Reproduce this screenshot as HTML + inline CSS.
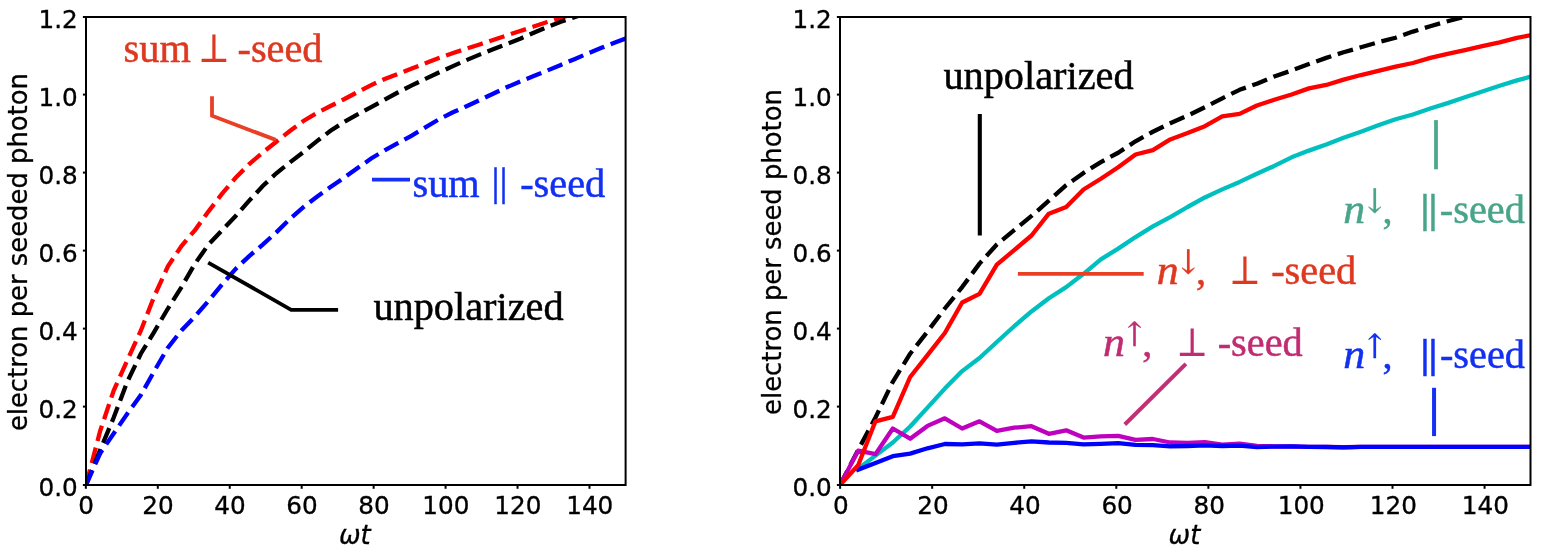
<!DOCTYPE html>
<html lang="en">
<head>
<meta charset="utf-8">
<title>electron per seeded photon</title>
<style>
html,body{margin:0;padding:0;background:#fff;}
body{width:1560px;height:556px;overflow:hidden;}
svg{display:block;}
text{white-space:pre;}
.tk{font-family:"DejaVu Sans","Liberation Sans",sans-serif;font-size:25.2px;fill:#000;stroke:#000;stroke-width:0.35px;}
.lb{font-family:"DejaVu Sans","Liberation Sans",sans-serif;font-size:25.85px;fill:#000;stroke:#000;stroke-width:0.3px;}
.it{font-style:italic;}
.an{font-family:"Liberation Serif","DejaVu Serif",serif;font-size:40.3px;}
.ni{font-style:italic;}
.ar{font-family:"DejaVu Math TeX Gyre","DejaVu Sans","Liberation Serif",serif;font-size:29.7px;}
.sy{font-family:"DejaVu Math TeX Gyre","DejaVu Sans","Liberation Serif",serif;font-size:39.3px;}
.br{font-weight:bold;letter-spacing:-0.75px;}
</style>
</head>
<body>
<svg width="1560" height="556" viewBox="0 0 1560 556">
<defs>
<clipPath id="c1"><rect x="86.00" y="17.00" width="539.60" height="468.00"/></clipPath>
<clipPath id="c2"><rect x="840.00" y="17.00" width="690.50" height="468.00"/></clipPath>
</defs>
<rect x="0" y="0" width="1560" height="556" fill="#fff"/>
<g clip-path="url(#c1)" fill="none" stroke-width="4.30" stroke-dasharray="15.9 6.85">
<polyline stroke="#ff0000" points="86.00,485.00 100.17,430.90 113.72,390.50 127.27,360.40 140.82,330.70 154.37,296.00 167.92,266.30 181.47,246.00 195.01,230.10 208.56,211.34 222.11,193.66 235.66,177.77 249.21,164.12 262.76,152.48 276.31,141.70 289.85,130.98 303.40,121.03 316.95,112.86 330.50,106.03 344.05,99.25 357.60,92.09 371.15,85.07 384.70,78.96 398.24,73.74 411.79,68.60 425.34,63.26 438.89,58.04 452.44,53.25 465.99,48.85 479.54,44.45 493.08,39.92 506.63,35.44 520.18,31.03 533.73,26.55 547.28,22.05 560.83,17.76 574.38,13.73 587.92,9.75 601.47,5.72 615.02,1.71 628.57,-2.17"/>
<polyline stroke="#000000" points="86.00,485.00 100.17,449.98 113.72,417.56 127.27,381.77 140.82,353.73 154.37,331.58 167.92,308.50 181.47,287.08 195.01,263.63 208.56,244.45 222.11,230.21 235.66,215.95 249.21,200.66 262.76,186.01 276.31,173.28 289.85,162.49 303.40,152.08 316.95,141.16 330.50,130.81 344.05,121.99 357.60,114.42 371.15,107.15 384.70,99.58 398.24,92.24 411.79,85.44 425.34,78.83 438.89,72.50 452.44,66.36 465.99,60.31 479.54,54.62 493.08,49.24 506.63,44.07 520.18,38.71 533.73,32.83 547.28,27.00 560.83,21.74 574.38,17.10 587.92,12.87 601.47,8.77 615.02,4.70 628.57,0.62"/>
<polyline stroke="#0000ff" points="86.00,485.00 100.17,453.30 113.72,433.50 127.27,413.70 140.82,395.10 154.37,370.90 167.92,347.60 181.47,330.40 195.01,316.40 208.56,300.91 222.11,284.38 235.66,268.88 249.21,256.08 262.76,244.69 276.31,232.32 289.85,219.03 303.40,207.13 316.95,196.76 330.50,187.09 344.05,177.83 357.60,168.06 371.15,158.52 384.70,150.30 398.24,142.90 411.79,135.52 425.34,127.42 438.89,119.36 452.44,112.55 465.99,106.43 479.54,100.16 493.08,93.70 506.63,87.32 520.18,81.46 533.73,76.06 547.28,70.54 560.83,64.90 574.38,59.18 587.92,53.40 601.47,47.76 615.02,42.45 628.57,37.53"/>
</g>
<g clip-path="url(#c2)" fill="none" stroke-width="4.30" stroke-linejoin="round">
<polyline stroke="#000000" stroke-dasharray="15.9 6.85" points="840.00,485.00 858.14,449.98 875.48,417.56 892.81,381.77 910.15,353.73 927.49,331.58 944.83,308.50 962.16,287.08 979.50,263.63 996.84,244.45 1014.18,230.21 1031.51,215.95 1048.85,200.74 1066.19,185.20 1083.53,172.89 1100.86,162.15 1118.20,152.75 1135.54,141.28 1152.88,131.75 1170.21,123.30 1187.55,115.64 1204.89,107.26 1222.23,98.30 1239.56,89.81 1256.90,83.72 1274.24,76.50 1291.58,70.54 1308.91,64.10 1326.25,57.87 1343.59,52.26 1360.93,47.28 1378.26,42.22 1395.60,37.72 1412.94,31.58 1430.28,26.25 1447.61,21.22 1464.95,16.77 1482.29,12.67 1499.63,8.65 1516.96,4.64 1534.30,0.62"/>
<polyline stroke="#00bfbf" stroke-linecap="square" points="858.14,468.70 875.48,455.60 892.81,442.50 910.15,426.50 927.49,407.60 944.83,388.60 962.16,371.10 979.50,358.00 996.84,342.00 1014.18,326.23 1031.51,311.48 1048.85,298.24 1066.19,287.15 1083.53,273.80 1100.86,259.33 1118.20,248.66 1135.54,237.07 1152.88,226.45 1170.21,217.08 1187.55,207.00 1204.89,197.45 1222.23,189.36 1239.56,181.91 1256.90,173.79 1274.24,165.93 1291.58,157.31 1308.91,150.61 1326.25,144.48 1343.59,137.84 1360.93,131.77 1378.26,125.34 1395.60,119.23 1412.94,114.45 1430.28,108.51 1447.61,103.10 1464.95,97.28 1482.29,91.46 1499.63,85.80 1516.96,80.38 1534.30,75.63"/>
<polyline stroke="#bf00bf" points="840.00,485.00 858.14,450.70 875.48,454.20 892.81,428.50 910.15,438.70 927.49,425.90 944.83,418.30 962.16,428.50 979.50,421.30 996.84,430.90 1014.18,427.70 1031.51,426.20 1048.85,433.80 1066.19,430.30 1083.53,437.60 1100.86,436.40 1118.20,435.80 1135.54,439.90 1152.88,439.00 1170.21,442.50 1187.55,442.80 1204.89,442.20 1222.23,444.60 1239.56,443.70 1256.90,446.00 1274.24,446.30 1291.58,446.40 1308.91,446.90 1326.25,446.97 1343.59,447.23 1360.93,446.90 1378.26,446.90 1395.60,446.90 1412.94,446.90 1430.28,446.90 1447.61,446.90 1464.95,446.90 1482.29,446.90 1499.63,446.90 1516.96,446.90 1534.30,446.90"/>
<polyline stroke="#0000ff" stroke-linecap="square" points="858.14,469.60 875.48,462.90 892.81,456.20 910.15,453.60 927.49,448.30 944.83,444.00 962.16,444.30 979.50,443.40 996.84,444.60 1014.18,442.80 1031.51,441.40 1048.85,442.50 1066.19,442.80 1083.53,444.30 1100.86,443.80 1118.20,443.10 1135.54,444.80 1152.88,445.10 1170.21,446.30 1187.55,446.00 1204.89,445.40 1222.23,446.00 1239.56,445.70 1256.90,447.20 1274.24,446.55 1291.58,446.40 1308.91,446.90 1326.25,447.00 1343.59,447.40 1360.93,446.90 1378.26,446.90 1395.60,446.90 1412.94,446.90 1430.28,446.90 1447.61,446.90 1464.95,446.90 1482.29,446.90 1499.63,446.90 1516.96,446.90 1534.30,446.90"/>
<polyline stroke="#ff0000" points="840.00,485.00 858.14,465.20 875.48,421.30 892.81,416.90 910.15,377.00 927.49,355.10 944.83,333.00 962.16,302.50 979.50,293.80 996.84,264.70 1014.18,250.10 1031.51,235.50 1048.85,213.70 1066.19,207.00 1083.53,189.50 1100.86,178.70 1118.20,167.30 1135.54,154.50 1152.88,150.10 1170.21,139.40 1187.55,133.10 1204.89,126.15 1222.23,116.30 1239.56,113.90 1256.90,105.46 1274.24,99.79 1291.58,94.53 1308.91,88.38 1326.25,84.94 1343.59,79.63 1360.93,75.04 1378.26,70.90 1395.60,66.66 1412.94,62.98 1430.28,57.88 1447.61,53.95 1464.95,50.13 1482.29,46.13 1499.63,42.39 1516.96,37.94 1534.30,34.43"/>
</g>
<line x1="85.85" y1="485.00" x2="85.85" y2="488.80" stroke="#000" stroke-width="2"/>
<line x1="157.80" y1="485.00" x2="157.80" y2="488.80" stroke="#000" stroke-width="2"/>
<line x1="229.74" y1="485.00" x2="229.74" y2="488.80" stroke="#000" stroke-width="2"/>
<line x1="301.69" y1="485.00" x2="301.69" y2="488.80" stroke="#000" stroke-width="2"/>
<line x1="373.64" y1="485.00" x2="373.64" y2="488.80" stroke="#000" stroke-width="2"/>
<line x1="445.58" y1="485.00" x2="445.58" y2="488.80" stroke="#000" stroke-width="2"/>
<line x1="517.53" y1="485.00" x2="517.53" y2="488.80" stroke="#000" stroke-width="2"/>
<line x1="589.48" y1="485.00" x2="589.48" y2="488.80" stroke="#000" stroke-width="2"/>
<line x1="82.90" y1="485.00" x2="86.00" y2="485.00" stroke="#000" stroke-width="2"/>
<line x1="82.90" y1="406.60" x2="86.00" y2="406.60" stroke="#000" stroke-width="2"/>
<line x1="82.90" y1="328.60" x2="86.00" y2="328.60" stroke="#000" stroke-width="2"/>
<line x1="82.90" y1="250.60" x2="86.00" y2="250.60" stroke="#000" stroke-width="2"/>
<line x1="82.90" y1="172.60" x2="86.00" y2="172.60" stroke="#000" stroke-width="2"/>
<line x1="82.90" y1="94.60" x2="86.00" y2="94.60" stroke="#000" stroke-width="2"/>
<line x1="82.90" y1="17.00" x2="86.00" y2="17.00" stroke="#000" stroke-width="2"/>
<rect x="86.00" y="17.00" width="539.60" height="468.00" fill="none" stroke="#000" stroke-width="2"/>
<text class="tk" transform="translate(86.10,513.50) scale(0.98,1)" text-anchor="middle">0</text>
<text class="tk" transform="translate(158.05,513.50) scale(0.98,1)" text-anchor="middle">20</text>
<text class="tk" transform="translate(229.99,513.50) scale(0.98,1)" text-anchor="middle">40</text>
<text class="tk" transform="translate(301.94,513.50) scale(0.98,1)" text-anchor="middle">60</text>
<text class="tk" transform="translate(373.89,513.50) scale(0.98,1)" text-anchor="middle">80</text>
<text class="tk" transform="translate(445.83,513.50) scale(0.98,1)" text-anchor="middle">100</text>
<text class="tk" transform="translate(517.78,513.50) scale(0.98,1)" text-anchor="middle">120</text>
<text class="tk" transform="translate(589.73,513.50) scale(0.98,1)" text-anchor="middle">140</text>
<text class="tk" transform="translate(77.80,495.90) scale(0.98,1)" text-anchor="end">0.0</text>
<text class="tk" transform="translate(77.80,417.90) scale(0.98,1)" text-anchor="end">0.2</text>
<text class="tk" transform="translate(77.80,339.90) scale(0.98,1)" text-anchor="end">0.4</text>
<text class="tk" transform="translate(77.80,261.90) scale(0.98,1)" text-anchor="end">0.6</text>
<text class="tk" transform="translate(77.80,183.90) scale(0.98,1)" text-anchor="end">0.8</text>
<text class="tk" transform="translate(77.80,105.90) scale(0.98,1)" text-anchor="end">1.0</text>
<text class="tk" transform="translate(77.80,27.90) scale(0.98,1)" text-anchor="end">1.2</text>
<line x1="840.10" y1="485.00" x2="840.10" y2="488.80" stroke="#000" stroke-width="2"/>
<line x1="932.17" y1="485.00" x2="932.17" y2="488.80" stroke="#000" stroke-width="2"/>
<line x1="1024.23" y1="485.00" x2="1024.23" y2="488.80" stroke="#000" stroke-width="2"/>
<line x1="1116.30" y1="485.00" x2="1116.30" y2="488.80" stroke="#000" stroke-width="2"/>
<line x1="1208.37" y1="485.00" x2="1208.37" y2="488.80" stroke="#000" stroke-width="2"/>
<line x1="1300.43" y1="485.00" x2="1300.43" y2="488.80" stroke="#000" stroke-width="2"/>
<line x1="1392.50" y1="485.00" x2="1392.50" y2="488.80" stroke="#000" stroke-width="2"/>
<line x1="1484.57" y1="485.00" x2="1484.57" y2="488.80" stroke="#000" stroke-width="2"/>
<line x1="836.90" y1="485.00" x2="840.00" y2="485.00" stroke="#000" stroke-width="2"/>
<line x1="836.90" y1="406.60" x2="840.00" y2="406.60" stroke="#000" stroke-width="2"/>
<line x1="836.90" y1="328.60" x2="840.00" y2="328.60" stroke="#000" stroke-width="2"/>
<line x1="836.90" y1="250.60" x2="840.00" y2="250.60" stroke="#000" stroke-width="2"/>
<line x1="836.90" y1="172.60" x2="840.00" y2="172.60" stroke="#000" stroke-width="2"/>
<line x1="836.90" y1="94.60" x2="840.00" y2="94.60" stroke="#000" stroke-width="2"/>
<line x1="836.90" y1="17.00" x2="840.00" y2="17.00" stroke="#000" stroke-width="2"/>
<rect x="840.00" y="17.00" width="690.50" height="468.00" fill="none" stroke="#000" stroke-width="2"/>
<text class="tk" transform="translate(840.90,513.50) scale(0.98,1)" text-anchor="middle">0</text>
<text class="tk" transform="translate(932.97,513.50) scale(0.98,1)" text-anchor="middle">20</text>
<text class="tk" transform="translate(1025.03,513.50) scale(0.98,1)" text-anchor="middle">40</text>
<text class="tk" transform="translate(1117.10,513.50) scale(0.98,1)" text-anchor="middle">60</text>
<text class="tk" transform="translate(1209.17,513.50) scale(0.98,1)" text-anchor="middle">80</text>
<text class="tk" transform="translate(1301.23,513.50) scale(0.98,1)" text-anchor="middle">100</text>
<text class="tk" transform="translate(1393.30,513.50) scale(0.98,1)" text-anchor="middle">120</text>
<text class="tk" transform="translate(1485.37,513.50) scale(0.98,1)" text-anchor="middle">140</text>
<text class="tk" transform="translate(831.80,495.90) scale(0.98,1)" text-anchor="end">0.0</text>
<text class="tk" transform="translate(831.80,417.90) scale(0.98,1)" text-anchor="end">0.2</text>
<text class="tk" transform="translate(831.80,339.90) scale(0.98,1)" text-anchor="end">0.4</text>
<text class="tk" transform="translate(831.80,261.90) scale(0.98,1)" text-anchor="end">0.6</text>
<text class="tk" transform="translate(831.80,183.90) scale(0.98,1)" text-anchor="end">0.8</text>
<text class="tk" transform="translate(831.80,105.90) scale(0.98,1)" text-anchor="end">1.0</text>
<text class="tk" transform="translate(831.80,27.90) scale(0.98,1)" text-anchor="end">1.2</text>
<text class="lb" transform="translate(26.6,252.1) rotate(-90)" text-anchor="middle">electron per seeded photon</text>
<text class="lb" transform="translate(780.5,252) rotate(-90)" text-anchor="middle">electron per seed photon</text>
<text class="lb it" x="354.8" y="544" text-anchor="middle">ωt</text>
<text class="lb it" x="1184.5" y="544" text-anchor="middle">ωt</text>
<g fill="none" stroke-width="3.8">
<polyline stroke="#E83F25" points="212.0,96.2 212.0,115.7 275.7,139.9"/>
<polyline stroke="#000" points="208.2,262.6 291.2,309.8 338.1,309.8"/>
<line stroke="#1430F5" x1="372" y1="179.7" x2="410" y2="179.7"/>
<line stroke="#000" stroke-width="4.1" x1="979.8" y1="114" x2="979.8" y2="235.5"/>
<line stroke="#E83F25" x1="1017.9" y1="273.8" x2="1143.7" y2="273.8"/>
<line stroke="#C32F75" stroke-width="4" x1="1185.9" y1="363.9" x2="1124.8" y2="424.5"/>
<line stroke="#4CA78C" x1="1436" y1="120.1" x2="1436" y2="169.3"/>
<line stroke="#1430F5" stroke-width="4" x1="1434.05" y1="387.8" x2="1434.05" y2="436.1"/>
</g>
<text class="an" fill="#DE3820" stroke="#DE3820" stroke-width="0.5" x="123.60" y="62.20">sum</text>
<text class="sy" fill="#DE3820" x="198.50" y="62.20">⊥</text>
<text class="an" fill="#DE3820" stroke="#DE3820" stroke-width="0.5" x="237.50" y="62.20">-seed</text>
<text class="an" fill="#1230F3" stroke="#1230F3" stroke-width="0.5" x="412.50" y="197.10">sum</text>
<text class="an" fill="#1230F3" stroke="#1230F3" stroke-width="0.5" x="491.50" y="195.00">||</text>
<text class="an" fill="#1230F3" stroke="#1230F3" stroke-width="0.5" x="520.20" y="197.10">-seed</text>
<text class="an" fill="#000" stroke="#000" stroke-width="0.5" x="373.40" y="320.00">unpolarized</text>
<text class="an" fill="#000" stroke="#000" stroke-width="0.5" x="943.40" y="88.80">unpolarized</text>
<text class="an ni" fill="#DE3820" stroke="#DE3820" stroke-width="0.5" transform="translate(1156.70,283.80) scale(1.09,1)">n</text>
<text class="ar" fill="#DE3820" stroke="#DE3820" stroke-width="0.3" x="1180.10" y="269.60">↓</text>
<text class="an" fill="#DE3820" stroke="#DE3820" stroke-width="0.5" x="1196.00" y="283.80">,</text>
<text class="sy" fill="#DE3820" x="1229.50" y="283.80">⊥</text>
<text class="an" fill="#DE3820" stroke="#DE3820" stroke-width="0.5" x="1271.20" y="283.80">-seed</text>
<text class="an ni" fill="#C02C72" stroke="#C02C72" stroke-width="0.5" transform="translate(1102.90,356.10) scale(1.09,1)">n</text>
<text class="ar" fill="#C02C72" stroke="#C02C72" stroke-width="0.3" x="1126.30" y="341.90">↑</text>
<text class="an" fill="#C02C72" stroke="#C02C72" stroke-width="0.5" x="1142.20" y="356.10">,</text>
<text class="sy" fill="#C02C72" x="1176.80" y="356.10">⊥</text>
<text class="an" fill="#C02C72" stroke="#C02C72" stroke-width="0.5" x="1217.70" y="356.10">-seed</text>
<text class="an ni" fill="#49A489" stroke="#49A489" stroke-width="0.5" transform="translate(1343.20,222.90) scale(1.09,1)">n</text>
<text class="ar" fill="#49A489" stroke="#49A489" stroke-width="0.3" x="1366.60" y="208.70">↓</text>
<text class="an" fill="#49A489" stroke="#49A489" stroke-width="0.5" x="1382.50" y="222.90">,</text>
<text class="an br" fill="#49A489" stroke="#49A489" stroke-width="0.5" x="1420.50" y="221.80">||</text>
<text class="an" fill="#49A489" stroke="#49A489" stroke-width="0.5" x="1439.80" y="222.90">-seed</text>
<text class="an ni" fill="#1230F3" stroke="#1230F3" stroke-width="0.5" transform="translate(1343.20,368.10) scale(1.09,1)">n</text>
<text class="ar" fill="#1230F3" stroke="#1230F3" stroke-width="0.3" x="1366.60" y="353.90">↑</text>
<text class="an" fill="#1230F3" stroke="#1230F3" stroke-width="0.5" x="1382.50" y="368.10">,</text>
<text class="an br" fill="#1230F3" stroke="#1230F3" stroke-width="0.5" x="1420.50" y="366.80">||</text>
<text class="an" fill="#1230F3" stroke="#1230F3" stroke-width="0.5" x="1439.90" y="368.10">-seed</text>
</svg>
</body>
</html>
